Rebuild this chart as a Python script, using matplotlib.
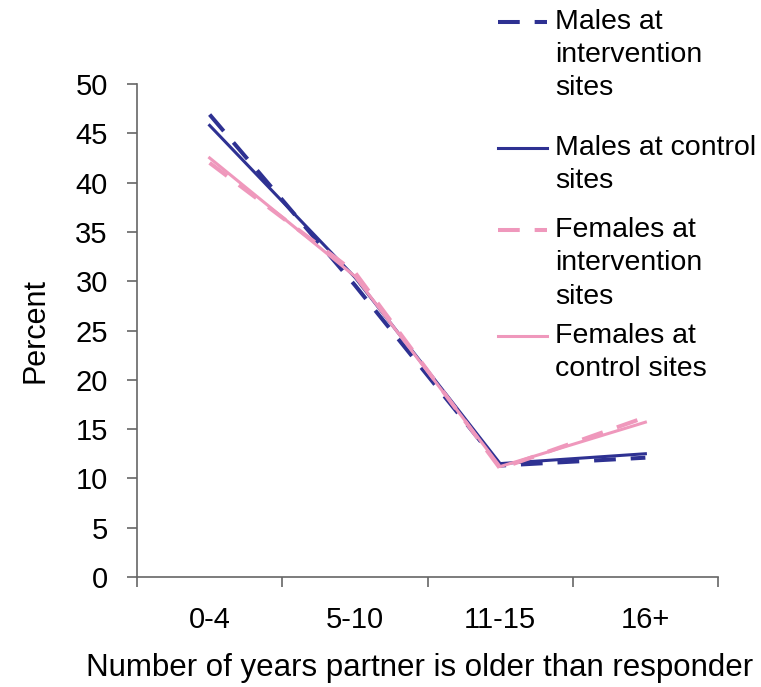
import matplotlib
matplotlib.use("Agg")
import matplotlib.pyplot as plt
from matplotlib.lines import Line2D

# Daten
kategorien = ["0-4", "5-10", "11-15", "16+"]
maenner_intervention = [46.9, 29.6, 11.3, 12.1]
maenner_kontrolle = [45.8, 30.4, 11.5, 12.5]
frauen_intervention = [42.0, 30.9, 11.0, 16.2]
frauen_kontrolle = [42.5, 30.5, 11.2, 15.7]

serien = [
    ("Males at\nintervention\nsites", maenner_intervention, "#2E3192", True),
    ("Males at control\nsites", maenner_kontrolle, "#2E3192", False),
    ("Females at\nintervention\nsites", frauen_intervention, "#EF98BC", True),
    ("Females at\ncontrol sites", frauen_kontrolle, "#EF98BC", False),
]

plt.rcParams["font.family"] = ["Liberation Sans", "DejaVu Sans"]
achsenfarbe = "#666666"

fig = plt.figure(figsize=(7.61, 6.87), dpi=100)
ax = fig.add_axes([137 / 761, 1 - 577 / 687, (718 - 137) / 761, (577 - 84) / 687])

x = list(range(len(kategorien)))
for name, werte, farbe, gestrichelt in serien:
    if gestrichelt:
        ax.plot(x, werte, color=farbe, lw=2.9, dashes=[5.4, 3.7], solid_capstyle="butt")
    else:
        ax.plot(x, werte, color=farbe, lw=2.2)

ax.set_xlim(-0.5, len(kategorien) - 0.5)
ax.set_ylim(0, 50)
ax.set_yticks(range(0, 51, 5))
ax.tick_params(axis="y", direction="out", length=7, width=1.2, color=achsenfarbe,
               labelsize=21, pad=14)

# Striche an den Kategoriegrenzen, Beschriftung in der Mitte
ax.set_xticks([i - 0.5 for i in range(len(kategorien) + 1)])
ax.set_xticklabels([])
ax.tick_params(axis="x", which="major", direction="out", length=7, width=1.2, color=achsenfarbe)
ax.set_xticks(x, minor=True)
ax.set_xticklabels(kategorien, minor=True)
ax.tick_params(axis="x", which="minor", length=0, labelsize=21, pad=21)

for seite in ["top", "right"]:
    ax.spines[seite].set_visible(False)
for seite in ["left", "bottom"]:
    ax.spines[seite].set_color(achsenfarbe)
    ax.spines[seite].set_linewidth(1.2)

ax.set_ylabel("Percent", fontsize=22, labelpad=18)
ax.set_xlabel("Number of years partner is older than responder", fontsize=22.5, va="center")
ax.xaxis.set_label_coords((420 - 137) / 581, (577 - 668) / 493)

# Legende von Hand, rechts oben
zeilen_y = [[22, 55, 88], [148, 181], [230, 263, 297], [336, 369]]
for (name, werte, farbe, gestrichelt), ys in zip(serien, zeilen_y):
    y0 = 1 - ys[0] / 687
    if gestrichelt:
        fig.add_artist(Line2D([498 / 761, 547 / 761], [y0, y0], color=farbe, lw=2.9,
                              dashes=[5.4, 3.7], transform=fig.transFigure))
    else:
        fig.add_artist(Line2D([498 / 761, 547 / 761], [y0, y0], color=farbe, lw=2.2,
                              transform=fig.transFigure))
    for zeile, yy in zip(name.split("\n"), ys):
        fig.text(555 / 761, 1 - yy / 687, zeile, fontsize=20.5, va="center", ha="left")

fig.savefig("out.png", dpi=100)
